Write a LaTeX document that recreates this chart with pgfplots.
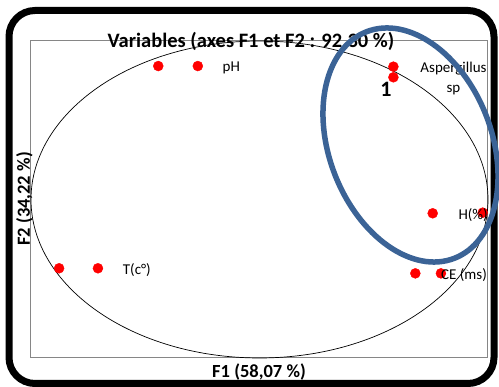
\documentclass[border=0pt]{standalone}
\usepackage{pgfplots}
\pgfplotsset{compat=1.18}
\usepackage{fontspec}
\setmainfont{Carlito}
\definecolor{ellblue}{RGB}{59,99,150}
\definecolor{axgray}{RGB}{134,134,134}
\begin{document}
\begin{tikzpicture}[x=1pt,y=1pt]
\useasboundingbox (0,0) rectangle (499,387);
\begin{axis}[at={(31pt,29pt)}, anchor=south west, scale only axis,
  width=457pt, height=317pt, xmin=-1, xmax=1, ymin=-1, ymax=1,
  xtick=\empty, ytick=\empty, axis line style={draw=axgray, line width=1pt},
  clip=false]
\draw[black, line width=0.7pt] (axis cs:0,0) ellipse [x radius=1, y radius=1];
\addplot[only marks, mark=*, mark size=5pt, color=red] coordinates {
(-0.443,0.842) (-0.270,0.842)
(0.586,0.838) (0.586,0.771)
(0.758,-0.087) (0.977,-0.083)
(0.682,-0.466) (0.794,-0.466)
(-0.877,-0.434) (-0.707,-0.434)
};
\end{axis}
\begin{scope}[every node/.style={inner sep=0pt, font=\fontsize{15}{20}\selectfont}]
\node[anchor=base west] at (222.5,315.5) {pH};
\node[anchor=base, align=center] at (453.5,294) {Aspergillus\\sp};
\node[anchor=base west] at (458.3,167.7) {H(\%)};
\node[anchor=base west] at (441,107.7) {CE (ms)};
\node[anchor=base west] at (122.7,112.7) {T(c°)};
\end{scope}
\node[anchor=base, inner sep=0pt, font=\fontsize{22}{24}\selectfont\bfseries] at (386,290.3) {1};
\node[anchor=base, inner sep=0pt, font=\fontsize{20.5}{24}\selectfont\bfseries] at (251,339) {Variables (axes F1 et F2 : 92,30 \%)};
\node[anchor=base, inner sep=0pt, font=\fontsize{18.5}{22}\selectfont\bfseries] at (259,9.3) {F1 (58,07 \%)};
\node[anchor=base, inner sep=0pt, rotate=90, font=\fontsize{18.5}{22}\selectfont\bfseries] at (30,188) {F2 (34,22 \%)};
\draw[black, line width=7pt, rounded corners=26pt] (9,3.5) rectangle (494,376.5);
\draw[ellblue, line width=5.5pt, rotate around={-68.8:(410.5,242)}] (410.5,242) ellipse [x radius=121.5, y radius=81.2];
\end{tikzpicture}
\end{document}
